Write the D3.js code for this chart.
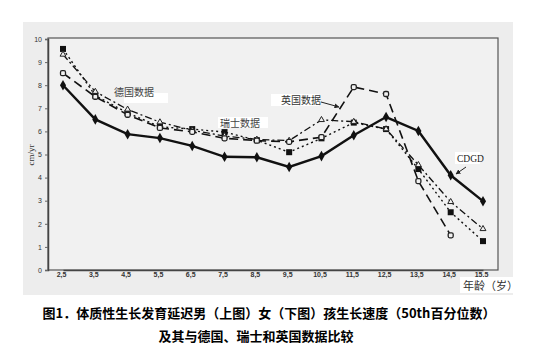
<!DOCTYPE html>
<html><head><meta charset="utf-8">
<script src="https://cdn.jsdelivr.net/npm/d3@7"></script>
<style>html,body{margin:0;padding:0;background:#fff;}svg{display:block;}</style>
</head><body>
<svg id="c" width="539" height="362"></svg>
<script>
const ages = [2.5,3.5,4.5,5.5,6.5,7.5,8.5,9.5,10.5,11.5,12.5,13.5,14.5,15.5];
const ageLabels = ["2,5","3,5","4,5","5,5","6,5","7,5","8,5","9,5","10,5","11,5","12,5","13,5","14,5","15,5"];
const yTicks = [0,1,2,3,4,5,6,7,8,9,10];
const cdgd    = [8.0, 6.52, 5.88, 5.71, 5.37, 4.9, 4.88, 4.46, 4.93, 5.83, 6.62, 6.02, 4.1, 2.98];
const swiss   = [9.57, 7.55, 6.8, 6.2, 6.1, 5.97, 5.62, 5.1, 5.7, 6.38, 6.1, 4.37, 2.5, 1.25];
const german  = [9.33, 7.72, 6.95, 6.4, 6.05, 5.8, 5.65, 5.6, 6.5, 6.42, 6.1, 4.55, 2.95, 1.78];
const british = [8.52, 7.5, 6.72, 6.15, 5.98, 5.7, 5.6, 5.55, 5.75, 7.92, 7.62, 3.85, 1.5, null];
const labels = {german:"德国数据", swiss:"瑞士数据", british:"英国数据", cdgd:"CDGD"};
const yTitle = "cm/yr";
const xTitle = "年龄（岁）";
const title1 = "图1．体质性生长发育延迟男（上图）女（下图）孩生长速度（50th百分位数）";
const title2 = "及其与德国、瑞士和英国数据比较";

const svg = d3.select("#c");
const x = d3.scaleLinear().domain([2.5,15.5]).range([63,483]);
const y = d3.scaleLinear().domain([0,10]).range([270,39]);
const cjk = "'Noto Sans CJK SC', 'Noto Sans', sans-serif";

// background
svg.append("rect").attr("x",23).attr("y",22).attr("width",490).attr("height",273).attr("fill","#ededed");
svg.append("rect").attr("x",48).attr("y",38).attr("width",450).attr("height",232)
  .attr("fill","#f1f1f1").attr("stroke","#555").attr("stroke-width",1.2);

// axes
const ya = svg.append("g").attr("transform","translate(48,0)")
  .call(d3.axisLeft(y).tickValues(yTicks).tickSize(3).tickFormat(d3.format("d")));
ya.select(".domain").attr("stroke","#444").attr("stroke-width",1.5);
ya.selectAll("text").attr("font-family","Arial, sans-serif").attr("font-size",7).attr("fill","#333").attr("x",-6);
ya.selectAll("line").attr("stroke","#666");

const xa = svg.append("g").attr("transform","translate(0,270)")
  .call(d3.axisBottom(x).tickValues(ages).tickSize(0).tickFormat((d,i)=>ageLabels[i]));
xa.select(".domain").attr("stroke","#444").attr("stroke-width",1.5);
xa.selectAll("text").attr("font-family","Arial, sans-serif").attr("font-size",7).attr("font-weight","bold")
  .attr("fill","#333").attr("dy","0.55em").attr("dx",-2);

// y title
svg.append("text").attr("transform","translate(34,155) rotate(-90)")
  .attr("text-anchor","middle").attr("font-family","'Liberation Serif', serif").attr("font-size",9)
  .attr("fill","#333").text(yTitle);

// x title
svg.append("rect").attr("x",460).attr("y",277).attr("width",55).attr("height",16).attr("fill","#fff");
svg.append("text").attr("x",463).attr("y",290).attr("font-family",cjk).attr("font-size",11)
  .attr("fill","#333").text(xTitle);

function drawSeries(vals, dash, width){
  const line = d3.line().defined(d=>d[1]!=null).x(d=>x(d[0])).y(d=>y(d[1]));
  svg.append("path").datum(ages.map((a,i)=>[a,vals[i]]))
    .attr("d",line).attr("fill","none").attr("stroke","#111")
    .attr("stroke-width",width).attr("stroke-dasharray",dash);
}
drawSeries(swiss, "2,3", 1.4);
drawSeries(german, "7,3,2,3", 1.3);
drawSeries(british, "9,5", 1.6);
drawSeries(cdgd, null, 2.4);

const pts = (vals)=>ages.map((a,i)=>[a,vals[i]]).filter(d=>d[1]!=null);
// markers
svg.append("g").selectAll("rect").data(pts(swiss)).join("rect")
  .attr("x",d=>x(d[0])-3).attr("y",d=>y(d[1])-3).attr("width",6).attr("height",6).attr("fill","#111");
svg.append("g").selectAll("path").data(pts(german)).join("path")
  .attr("transform",d=>`translate(${x(d[0])},${y(d[1])})`)
  .attr("d",d3.symbol(d3.symbolTriangle,15)).attr("fill","#f1f1f1").attr("stroke","#222").attr("stroke-width",1);
svg.append("g").selectAll("rect").data(pts(british)).join("rect")
  .attr("x",d=>x(d[0])-2.5).attr("y",d=>y(d[1])-2.5).attr("width",5).attr("height",5).attr("rx",1.5)
  .attr("fill","#f1f1f1").attr("stroke","#222").attr("stroke-width",1.3);
svg.append("g").selectAll("path").data(pts(cdgd)).join("path")
  .attr("transform",d=>`translate(${x(d[0])},${y(d[1])})`)
  .attr("d",d3.symbol(d3.symbolDiamond,32)).attr("fill","#111");

// annotations
svg.append("rect").attr("x",124).attr("y",93).attr("width",44).attr("height",10).attr("fill","#fff");
svg.append("text").attr("x",114).attr("y",96).attr("font-family",cjk).attr("font-size",10).attr("fill","#444").text(labels.german);
svg.append("rect").attr("x",218).attr("y",117).attr("width",50).attr("height",11).attr("fill","#fff");
svg.append("text").attr("x",220).attr("y",127).attr("font-family",cjk).attr("font-size",10).attr("fill","#444").text(labels.swiss);
svg.append("rect").attr("x",271).attr("y",94).attr("width",48).attr("height",12).attr("fill","#fff");
svg.append("text").attr("x",281).attr("y",104).attr("font-family",cjk).attr("font-size",10).attr("fill","#333").text(labels.british);
svg.append("rect").attr("x",455).attr("y",152).attr("width",25).attr("height",12).attr("fill","#fff");
svg.append("text").attr("x",457).attr("y",162).attr("font-family","'Liberation Serif', serif").attr("font-size",9.5).attr("fill","#222").text(labels.cdgd);

const defs = svg.append("defs");
defs.append("marker").attr("id","ah").attr("viewBox","0 0 10 10").attr("refX",9).attr("refY",5)
  .attr("markerWidth",5).attr("markerHeight",5).attr("orient","auto")
  .append("path").attr("d","M0,0L10,5L0,10z").attr("fill","#222");
svg.append("line").attr("x1",321).attr("y1",102).attr("x2",339).attr("y2",107)
  .attr("stroke","#222").attr("stroke-width",1).attr("marker-end","url(#ah)");
svg.append("line").attr("x1",466).attr("y1",167).attr("x2",456).attr("y2",174)
  .attr("stroke","#222").attr("stroke-width",1).attr("marker-end","url(#ah)");

// captions
svg.append("text").attr("x",269).attr("y",318).attr("text-anchor","middle").attr("font-family",cjk)
  .attr("font-size",13).attr("font-weight","bold").attr("fill","#000").text(title1);
svg.append("text").attr("x",256).attr("y",341).attr("text-anchor","middle").attr("font-family",cjk)
  .attr("font-size",13).attr("font-weight","bold").attr("fill","#000").text(title2);
</script>
</body></html>
